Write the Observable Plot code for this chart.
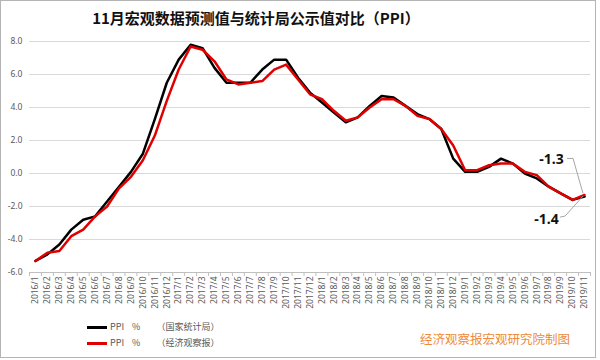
<!DOCTYPE html>
<html>
<head>
<meta charset="utf-8">
<script src="https://cdn.jsdelivr.net/npm/d3@7"></script>
<script src="https://cdn.jsdelivr.net/npm/@observablehq/plot@0.6"></script>
<style>
  html, body { margin: 0; padding: 0; background: #fff; }
  #wrap { position: relative; width: 600px; height: 360px; overflow: hidden; font-family: "Noto Sans CJK SC", "Noto Sans", sans-serif; }
  #frame { position: absolute; left: 0; top: 0; width: 594px; height: 356px; border: 1px solid #b4b4b4; }
  #title { position: absolute; left: 0; top: 8px; width: 512px; text-align: center; font-size: 15px; font-weight: bold; color: #111; line-height: 20px; }
  #chart { position: absolute; left: 0; top: 30px; }
  .leg { position: absolute; left: 87px; font-size: 9px; color: #595959; line-height: 12px; white-space: pre; }
  .leg .sw { display: inline-block; width: 20px; height: 3px; vertical-align: middle; margin-right: 3px; }
  #credit { position: absolute; left: 420px; top: 329px; font-size: 12.5px; color: #ee8a3a; letter-spacing: 0px; }
</style>
</head>
<body>
<div id="wrap">
  <div id="frame"></div>
  <div id="title"></div>
  <div id="chart"></div>
  <div class="leg" id="leg0" style="top:321px"></div>
  <div class="leg" id="leg1" style="top:337px"></div>
  <div id="credit"></div>
</div>
<script>
const titleText = "11月宏观数据预测值与统计局公示值对比（PPI）";
const months = [
  "2016/1","2016/2","2016/3","2016/4","2016/5","2016/6","2016/7","2016/8","2016/9","2016/10","2016/11","2016/12",
  "2017/1","2017/2","2017/3","2017/4","2017/5","2017/6","2017/7","2017/8","2017/9","2017/10","2017/11","2017/12",
  "2018/1","2018/2","2018/3","2018/4","2018/5","2018/6","2018/7","2018/8","2018/9","2018/10","2018/11","2018/12",
  "2019/1","2019/2","2019/3","2019/4","2019/5","2019/6","2019/7","2019/8","2019/9","2019/10","2019/11"
];
// 国家统计局 (official)
const official = [
  -5.3,-4.9,-4.3,-3.4,-2.8,-2.6,-1.7,-0.8,0.1,1.2,3.3,5.5,
  6.9,7.8,7.6,6.4,5.5,5.5,5.5,6.3,6.9,6.9,5.8,4.9,
  4.3,3.7,3.1,3.4,4.1,4.7,4.6,4.1,3.6,3.3,2.7,0.9,
  0.1,0.1,0.4,0.9,0.6,0.0,-0.3,-0.8,-1.2,-1.6,-1.4
];
// 经济观察报 (forecast)
const forecast = [
  -5.3,-4.8,-4.7,-3.8,-3.4,-2.6,-2.0,-0.9,-0.2,0.8,2.3,4.4,
  6.3,7.7,7.5,6.8,5.7,5.4,5.5,5.6,6.3,6.6,5.7,4.8,
  4.5,3.8,3.2,3.4,4.0,4.5,4.5,4.1,3.5,3.3,2.7,1.7,
  0.2,0.2,0.5,0.6,0.6,0.1,-0.1,-0.8,-1.2,-1.6,-1.3
];
const seriesNames = ["PPI    %        （国家统计局）", "PPI    %        （经济观察报）"];
const seriesColors = ["#000000", "#e00000"];
const yTicks = [-6, -4, -2, 0, 2, 4, 6, 8];
const creditText = "经济观察报宏观研究院制图";

const idx = d3.range(months.length);
const rowsOfficial = idx.map(i => ({i, v: official[i]}));
const rowsForecast = idx.map(i => ({i, v: forecast[i]}));
const last = months.length - 1;
const labelForecast = [{i: last, v: forecast[last], text: forecast[last].toFixed(1)}];
const labelOfficial = [{i: last, v: official[last], text: official[last].toFixed(1)}];

const leaders = (index, scales) => {
  const g = d3.create("svg:g").attr("fill", "none").attr("stroke", "#a6a6a6").attr("stroke-width", 1);
  const xr = scales.x(last), yr = scales.y(forecast[last]), yb = scales.y(official[last]);
  g.append("polyline").attr("points", [[xr - 17, yr - 36], [xr - 11, yr - 36], [xr - 1, yr - 1]].map(p => p.join(",")).join(" "));
  g.append("polyline").attr("points", [[xr - 24, yb + 21], [xr - 19, yb + 20], [xr - 1, yb]].map(p => p.join(",")).join(" "));
  return g.node();
};

const plot = Plot.plot({
  width: 600,
  height: 285,
  marginTop: 11,
  marginBottom: 43,
  marginLeft: 29,
  marginRight: 10,
  style: {fontFamily: "'Noto Sans', 'DejaVu Sans', sans-serif", fontSize: "8.5px", color: "#595959", background: "transparent"},
  x: {type: "linear", domain: [-0.5, months.length - 0.5]},
  y: {domain: [-6, 8]},
  marks: [
    Plot.gridY(yTicks, {stroke: "#d9d9d9", strokeOpacity: 1}),
    Plot.ruleY([-6], {stroke: "#bfbfbf"}),
    Plot.axisY(yTicks, {tickSize: 0, tickPadding: 7, tickFormat: d => d.toFixed(1), fill: "#595959", label: null}),
    Plot.axisX(d3.range(months.length + 1).map(i => i - 0.5), {tickSize: 4, tickFormat: () => "", stroke: "#bfbfbf", label: null}),
    Plot.axisX(idx, {tickSize: 0, tickPadding: 4, tickRotate: -90, tickFormat: i => months[i], fill: "#595959", label: null}),
    Plot.line(rowsOfficial, {x: "i", y: "v", stroke: seriesColors[0], strokeWidth: 2.5, strokeLinejoin: "round"}),
    Plot.line(rowsForecast, {x: "i", y: "v", stroke: seriesColors[1], strokeWidth: 2.5, strokeLinejoin: "round"}),
    leaders,
    Plot.text(labelForecast, {x: "i", y: "v", text: "text", dx: -33, dy: -35, fontSize: 14, fontWeight: "bold", fill: "#111"}),
    Plot.text(labelOfficial, {x: "i", y: "v", text: "text", dx: -38, dy: 23, fontSize: 14, fontWeight: "bold", fill: "#111"})
  ]
});
document.getElementById("chart").appendChild(plot);

document.getElementById("title").textContent = titleText;
document.getElementById("credit").textContent = creditText;
seriesNames.forEach((name, k) => {
  const el = document.getElementById("leg" + k);
  const sw = document.createElement("span");
  sw.className = "sw";
  sw.style.background = seriesColors[k];
  el.appendChild(sw);
  el.appendChild(document.createTextNode(name));
});
</script>
</body>
</html>
